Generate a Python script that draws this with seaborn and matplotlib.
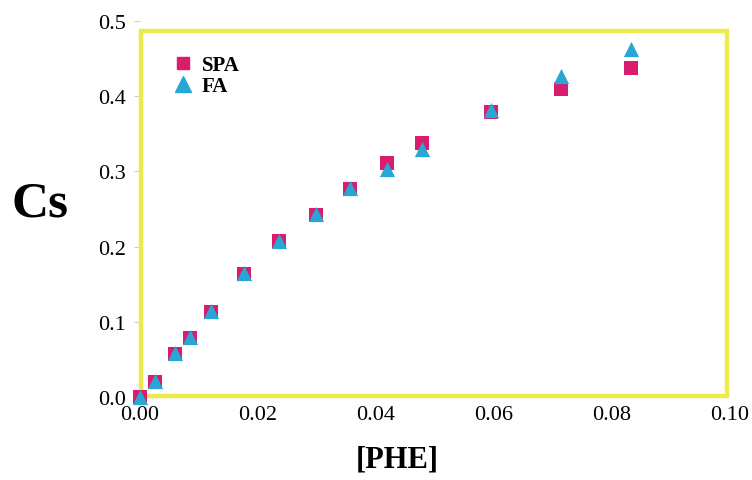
import matplotlib
matplotlib.use("Agg")
import matplotlib.pyplot as plt
import seaborn as sns
import pandas as pd
from matplotlib.patches import Rectangle
from matplotlib.lines import Line2D

sns.set_theme(style="white")
plt.rcParams['font.family'] = ['Liberation Serif', 'DejaVu Serif']
plt.rcParams['text.color'] = 'black'

phe = [0.0, 0.0025, 0.006, 0.0085, 0.012, 0.0177, 0.0235, 0.0298, 0.0356, 0.0418, 0.0478, 0.0595, 0.0713, 0.0832]
spa = [0.0, 0.020, 0.057, 0.078, 0.113, 0.163, 0.207, 0.242, 0.277, 0.311, 0.338, 0.379, 0.410, 0.437]
fa  = [0.0, 0.021, 0.058, 0.080, 0.115, 0.165, 0.208, 0.243, 0.278, 0.303, 0.330, 0.381, 0.427, 0.463]
series_names = ["SPA", "FA"]
xticks = [0.00, 0.02, 0.04, 0.06, 0.08, 0.10]
yticks = [0.0, 0.1, 0.2, 0.3, 0.4, 0.5]

df = pd.DataFrame({
    "PHE": phe + phe,
    "Cs": spa + fa,
    "series": [series_names[0]] * len(phe) + [series_names[1]] * len(phe),
})

fig = plt.figure(figsize=(7.52, 4.81), dpi=100)
ax = fig.add_axes([140/752, (481-398)/481, 590/752, 376/481])

palette = {"SPA": "#D91C6E", "FA": "#27A7D6"}
markers = {"SPA": "s", "FA": "^"}
sns.scatterplot(data=df[df.series == "SPA"], x="PHE", y="Cs", color=palette["SPA"],
                marker="s", s=95, linewidth=0, ax=ax, legend=False, clip_on=False, zorder=3)
sns.scatterplot(data=df[df.series == "FA"], x="PHE", y="Cs", color=palette["FA"],
                marker="^", s=120, linewidth=0, ax=ax, legend=False, clip_on=False, zorder=4)

ax.set_xlim(0, 0.10)
ax.set_ylim(0, 0.5)
ax.set_xticks(xticks)
ax.set_xticklabels([f"{v:.2f}" for v in xticks])
ax.set_yticks(yticks)
ax.set_yticklabels([f"{v:.1f}" for v in yticks])
ax.set_xlabel("")
ax.set_ylabel("")
for s in ax.spines.values():
    s.set_visible(False)
ax.tick_params(axis='x', length=0, pad=6, labelsize=16, labelcolor='black')
ax.tick_params(axis='y', length=4, width=0.8, color='#cccccc', pad=6, labelsize=16,
               left=True, labelcolor='black')

ax.add_patch(Rectangle((0.0002, 0.001), 0.0993, 0.486, fill=False,
                       edgecolor='#EEEA4E', linewidth=3.2, zorder=2, clip_on=False))

handles = [Line2D([], [], marker='s', color=palette["SPA"], linestyle='none', markersize=9),
           Line2D([], [], marker='^', color=palette["FA"], linestyle='none', markersize=11)]
leg = ax.legend(handles, series_names, loc='upper left', bbox_to_anchor=(160/752, 1-46/481),
                bbox_transform=fig.transFigure, frameon=False, handletextpad=0.3,
                labelspacing=0.05, borderpad=0, handlelength=1.2,
                prop={'family': 'Liberation Serif', 'weight': 'bold', 'size': 15})
for t in leg.get_texts():
    t.set_color('black')

fig.text(40/752, 1-205/481, "Cs", ha='center', va='center', fontsize=37,
         fontweight='bold', family='Liberation Serif', color='black')
fig.text(397/752, 1-460/481, "[PHE]", ha='center', va='center', fontsize=22,
         fontweight='bold', family='Liberation Serif', color='black')

fig.savefig("out.png", dpi=100, facecolor='white')
